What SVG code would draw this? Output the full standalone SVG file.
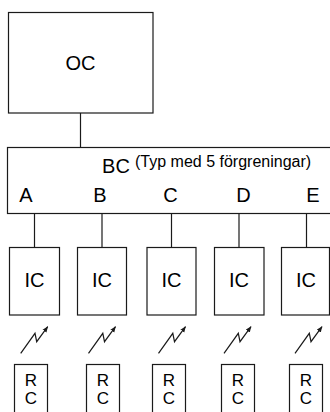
<svg xmlns="http://www.w3.org/2000/svg" width="330" height="412" viewBox="0 0 330 412">
<defs>
<style>
.box{fill:#fff;stroke:#1a1a1a;stroke-width:1.2}
.ln{fill:none;stroke:#1a1a1a;stroke-width:1.2}
.t{font-family:"Liberation Sans",Arial,sans-serif;font-size:20px;fill:#000;text-anchor:middle}
.rc{font-family:"Liberation Sans",Arial,sans-serif;font-size:17px;fill:#000;text-anchor:middle}
.s{font-family:"Liberation Sans",Arial,sans-serif;font-size:16px;fill:#000}
</style>
<marker id="ah" viewBox="0 0 10 10" refX="9" refY="5" markerWidth="6" markerHeight="6" orient="auto" markerUnits="userSpaceOnUse">
<path d="M0,1 L10,5 L0,9 z" fill="#1a1a1a"/>
</marker>
<g id="bolt"><path class="ln" d="M0,26.6 L14.3,6.6 L16,15 L27,0" marker-end="url(#ah)"/></g>
</defs>
<g id="connectors">
<line class="ln" x1="80.5" y1="113" x2="80.5" y2="147.5"/>
<line class="ln" x1="34.5" y1="213.5" x2="34.5" y2="247.5"/>
<line class="ln" x1="102" y1="213.5" x2="102" y2="247.5"/>
<line class="ln" x1="171.5" y1="213.5" x2="171.5" y2="247.5"/>
<line class="ln" x1="239" y1="213.5" x2="239" y2="247.5"/>
<line class="ln" x1="306.5" y1="213.5" x2="306.5" y2="247.5"/>
<use href="#bolt" x="20.7" y="326.7"/>
<use href="#bolt" x="88.5" y="326.7"/>
<use href="#bolt" x="158.5" y="326.7"/>
<use href="#bolt" x="224" y="326.7"/>
<use href="#bolt" x="295" y="326.7"/>
</g>
<g id="OC">
<rect class="box" x="8.5" y="12.5" width="144.5" height="100.5"/>
<text class="t" x="80.5" y="70">OC</text>
</g>
<g id="BC">
<rect class="box" x="7.5" y="147.5" width="330" height="66"/>
<text class="t" x="116" y="172.5">BC</text>
<text class="s" x="135" y="167">(Typ med 5 förgreningar)</text>
<text class="t" x="26" y="202">A</text>
<text class="t" x="100" y="202">B</text>
<text class="t" x="170.5" y="202">C</text>
<text class="t" x="243.5" y="202">D</text>
<text class="t" x="313" y="202">E</text>
</g>
<g id="IC1"><rect class="box" x="9.5" y="247.5" width="50" height="67.5"/><text class="t" x="34.5" y="287">IC</text></g>
<g id="IC2"><rect class="box" x="77.5" y="247.5" width="49" height="67.5"/><text class="t" x="102" y="287">IC</text></g>
<g id="IC3"><rect class="box" x="147" y="247.5" width="49" height="67.5"/><text class="t" x="171.5" y="287">IC</text></g>
<g id="IC4"><rect class="box" x="214.5" y="247.5" width="49.5" height="67.5"/><text class="t" x="239" y="287">IC</text></g>
<g id="IC5"><rect class="box" x="281.5" y="247.5" width="48" height="67.5"/><text class="t" x="306" y="287">IC</text></g>
<g id="RC1"><rect class="box" x="14.5" y="364.5" width="33" height="60"/><text class="rc" x="31" y="385.5">R</text><text class="rc" x="31" y="403.5">C</text></g>
<g id="RC2"><rect class="box" x="86.5" y="364.5" width="33" height="60"/><text class="rc" x="103" y="385.5">R</text><text class="rc" x="103" y="403.5">C</text></g>
<g id="RC3"><rect class="box" x="152.5" y="364.5" width="33" height="60"/><text class="rc" x="169" y="385.5">R</text><text class="rc" x="169" y="403.5">C</text></g>
<g id="RC4"><rect class="box" x="221.5" y="364.5" width="33" height="60"/><text class="rc" x="238" y="385.5">R</text><text class="rc" x="238" y="403.5">C</text></g>
<g id="RC5"><rect class="box" x="289.5" y="364.5" width="33" height="60"/><text class="rc" x="306" y="385.5">R</text><text class="rc" x="306" y="403.5">C</text></g>
</svg>
